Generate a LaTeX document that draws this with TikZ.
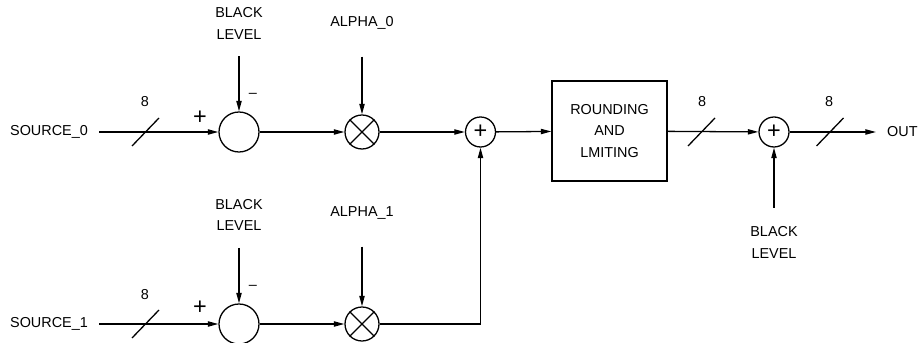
\documentclass[tikz,border=0pt]{standalone}
\usepackage{fontspec}
\setmainfont{Liberation Sans}
\usetikzlibrary{positioning,arrows.meta}

\begin{document}
\begin{tikzpicture}[
    x=0.03cm, y=-0.03cm,
    every node/.style={font=\fontsize{12.3}{18}\selectfont},
    lbl/.style={align=center, inner sep=0pt},
    port/.style={inner xsep=9.4pt, inner ysep=0pt},
    sign/.style={inner sep=0pt, font=\fontsize{20}{20}\selectfont},
    sumnode/.style={draw, circle, line width=1.1pt, minimum size=1.2cm, inner sep=0pt},
    mulnode/.style={draw, circle, line width=1.1pt, minimum size=1.02cm, inner sep=0pt},
    addnode/.style={draw, circle, line width=1.1pt, minimum size=0.9cm, inner sep=0pt, font=\fontsize{20}{20}\selectfont},
    blockbox/.style={draw, line width=1.1pt, minimum width=3.45cm, minimum height=3cm, align=center},
    arrow/.style={-{Triangle[length=9pt, width=4.5pt]}, line width=1.1pt},
    busmark/.style={line width=1.1pt},
]
\useasboundingbox (0,0) rectangle (918,343);

% Channel 0
\node[port] (src0) at (49,132) {SOURCE\_0};
\node[sumnode] (sub0) at (239,132) {};
\node[lbl] (bl0) at (239,23.5) {BLACK\\LEVEL};
\node[mulnode] (mul0) at (362,132) {};
\node[lbl] (al0) at (362,23) {ALPHA\_0};
\node[sign] at (200,118) {+};
\node[lbl] at (253,95) {–};
\node[lbl] at (145,102) {8};
\coordinate (bus0) at (145.5,132);

% Channel 1
\node[port] (src1) at (49,324) {SOURCE\_1};
\node[sumnode] (sub1) at (239,324) {};
\node[lbl] (bl1) at (239,215) {BLACK\\LEVEL};
\node[mulnode] (mul1) at (362,324) {};
\node[lbl] (al1) at (362,213) {ALPHA\_1};
\node[sign] at (200,308) {+};
\node[lbl] at (253,287) {–};
\node[lbl] at (145,295) {8};
\coordinate (bus1) at (145.5,324);

% Mixer and output stage
\node[addnode] (mix) at (480.5,132) {+};
\node[blockbox] (round) at (609.5,131) {ROUNDING\\AND\\LMITING};
\node[addnode] (outadd) at (774,132) {+};
\node[lbl] (bl2) at (774,242.5) {BLACK\\LEVEL};
\node[port, anchor=west, inner xsep=0pt] (out) at (887,132) {OUT};
\node[lbl] at (702,102) {8};
\node[lbl] at (829,102) {8};
\coordinate (bus2) at (701.5,132);
\coordinate (bus3) at (830,132);

% multiplier crosses
\foreach \m in {mul0,mul1}{
  \draw[line width=1.1pt] (\m.45) -- (\m.225) (\m.135) -- (\m.315);
}

% connectors
\draw[arrow] (src0) -- (sub0);
\draw[arrow, shorten <=14.5pt] (bl0.south) -- (sub0);
\draw[arrow] (sub0) -- (mul0);
\draw[arrow, shorten <=23pt] (al0.south) -- (mul0);
\draw[arrow] (mul0) -- (mix);

\draw[arrow] (src1) -- (sub1);
\draw[arrow, shorten <=14.5pt] (bl1.south) -- (sub1);
\draw[arrow] (sub1) -- (mul1);
\draw[arrow, shorten <=23pt] (al1.south) -- (mul1);
\draw[arrow] (mul1) -| (mix);

\draw[arrow] (mix) -- (round);
\draw[arrow] (round) -- (outadd);
\draw[arrow, shorten <=16pt] (bl2.north) -- (outadd);
\draw[arrow, shorten >=9.4pt] (outadd) -- (out);

% 8-bit bus marks
\foreach \b in {bus0,bus1,bus2,bus3}{
  \draw[busmark] (\b) +(-13.5,14) -- +(13.5,-14);
}
\end{tikzpicture}
\end{document}
